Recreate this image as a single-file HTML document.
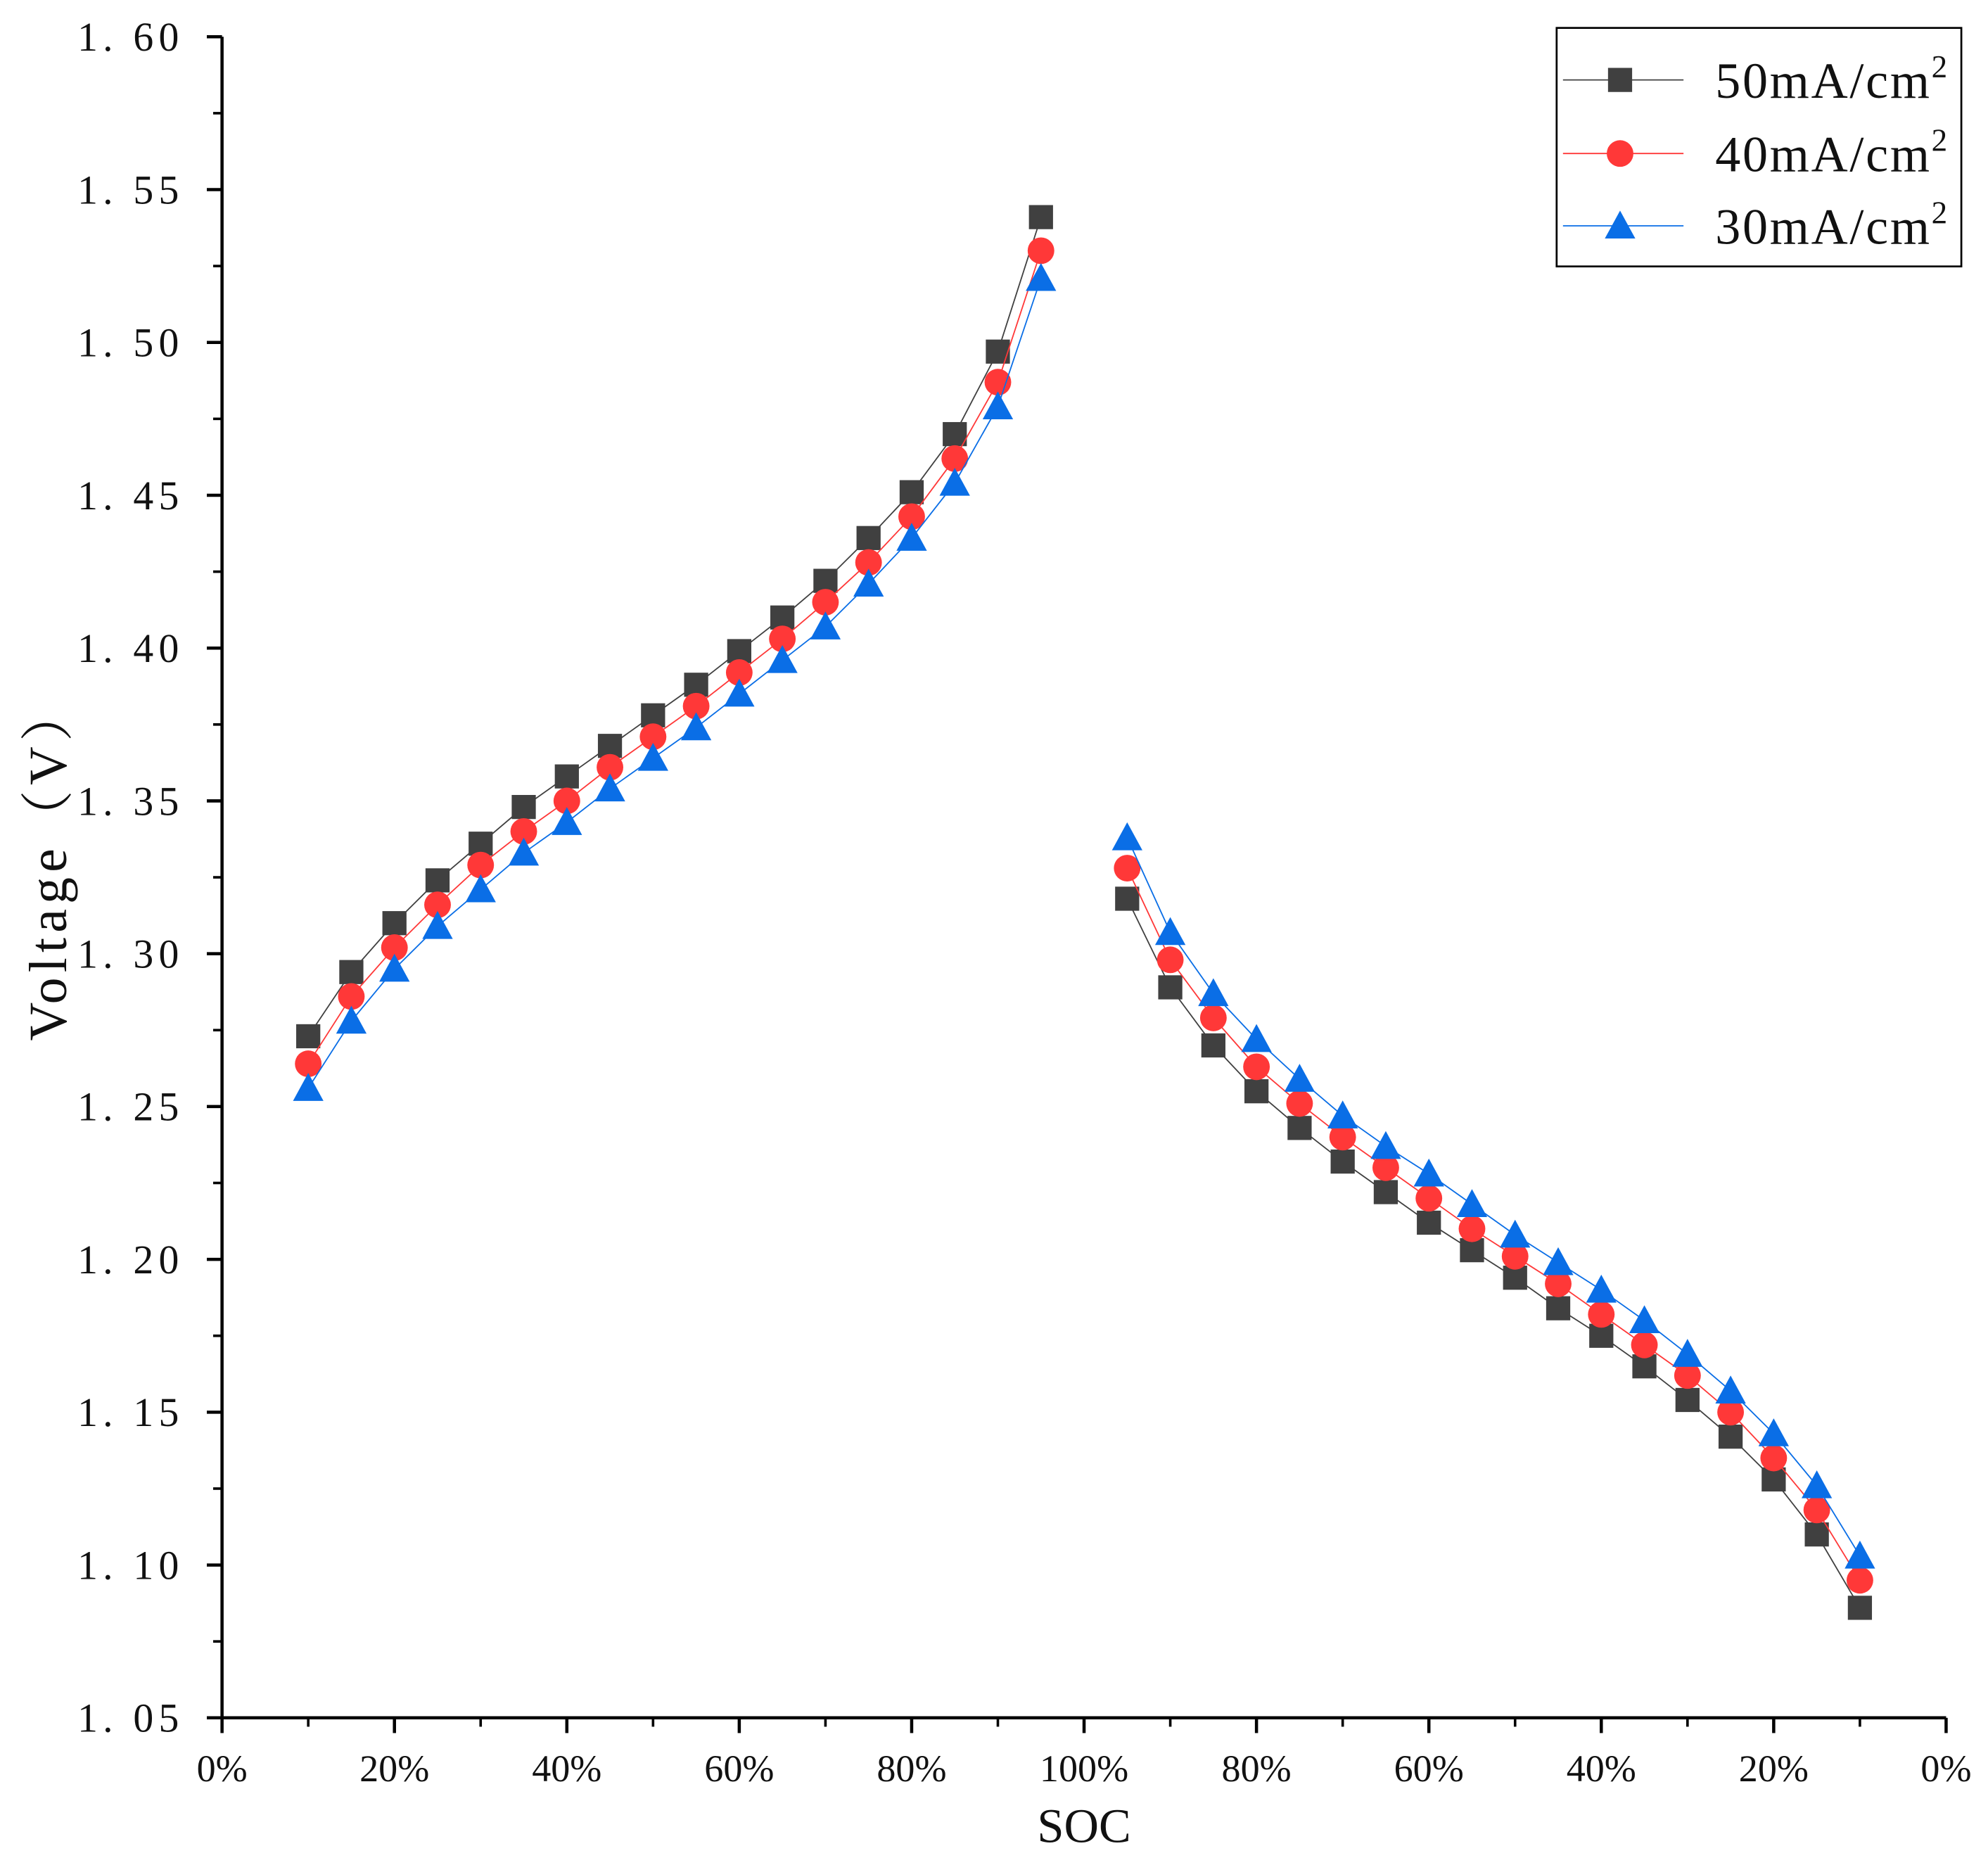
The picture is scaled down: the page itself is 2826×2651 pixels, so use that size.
<!DOCTYPE html>
<html><head><meta charset="utf-8"><style>
html,body{margin:0;padding:0;background:#fff;}
svg{display:block;}
text{font-family:"Liberation Serif","Noto Serif CJK SC",serif;fill:#111;}
</style></head><body>
<svg id="chart" width="2826" height="2651" viewBox="0 0 1567 1470" xmlns="http://www.w3.org/2000/svg">
<rect width="1567" height="1470" fill="#fff"/>
<g id="axes"></g>
<g id="series"></g>
<g id="legend"></g>
</svg>
<script>
const positions = [10,15,20,25,30,35,40,45,50,55,60,65,70,75,80,85,90,95,105,110,115,120,125,130,135,140,145,150,155,160,165,170,175,180,185,190];
const v50charge = [1.273,1.294,1.310,1.324,1.336,1.348,1.358,1.368,1.378,1.388,1.399,1.410,1.422,1.436,1.451,1.470,1.497,1.541];
const v40charge = [1.264,1.286,1.302,1.316,1.329,1.340,1.350,1.361,1.371,1.381,1.392,1.403,1.415,1.428,1.443,1.462,1.487,1.530];
const v30charge = [1.256,1.278,1.295,1.309,1.321,1.333,1.343,1.354,1.364,1.374,1.385,1.396,1.407,1.421,1.436,1.454,1.479,1.521];
const v50discharge = [1.318,1.289,1.270,1.255,1.243,1.232,1.222,1.212,1.203,1.194,1.184,1.175,1.165,1.154,1.142,1.128,1.110,1.086];
const v40discharge = [1.328,1.298,1.279,1.263,1.251,1.240,1.230,1.220,1.210,1.201,1.192,1.182,1.172,1.162,1.150,1.135,1.118,1.095];
const v30discharge = [1.338,1.307,1.287,1.272,1.259,1.247,1.237,1.228,1.218,1.208,1.199,1.190,1.180,1.169,1.157,1.143,1.126,1.103];
const yTicks = [1.05,1.10,1.15,1.20,1.25,1.30,1.35,1.40,1.45,1.50,1.55,1.60];
const yTickLabels = ["1. 05","1. 10","1. 15","1. 20","1. 25","1. 30","1. 35","1. 40","1. 45","1. 50","1. 55","1. 60"];
const xTicks = [0,20,40,60,80,100,120,140,160,180,200];
const xTickLabels = ["0%","20%","40%","60%","80%","100%","80%","60%","40%","20%","0%"];
const seriesNames = ["50mA/cm","40mA/cm","30mA/cm"];

const NS="http://www.w3.org/2000/svg";
const L=175,R=1534,T=29,B=1354;
const xs=v=>L+(v/200)*(R-L);
const ys=v=>B-(v-1.05)/0.55*(B-T);
function el(tag,attrs,parent){const e=document.createElementNS(NS,tag);for(const k in attrs)e.setAttribute(k,attrs[k]);parent.appendChild(e);return e;}
const axes=document.getElementById('axes');
const ax=el('path',{d:`M${L},${T}V${B}H${R}`,stroke:'#000','stroke-width':2.5,fill:'none'},axes);


yTicks.forEach((t,i)=>{
  const y=ys(t);
  el('line',{x1:L-12,x2:L,y1:y,y2:y,stroke:'#000','stroke-width':2.5},axes);
  const tx=el('text',{x:L-30,y:y+11,'font-size':32,'text-anchor':'end','letter-spacing':4},axes);
  tx.textContent=yTickLabels[i];
  
  
  if(i<yTicks.length-1){const ym=ys(t+0.025);el('line',{x1:L-7,x2:L,y1:ym,y2:ym,stroke:'#000','stroke-width':2},axes);}
});
xTicks.forEach((t,i)=>{
  const x=xs(t);
  el('line',{x1:x,x2:x,y1:B,y2:B+12,stroke:'#000','stroke-width':2.5},axes);
  const tx=el('text',{x:x,y:B+50,'font-size':30,'text-anchor':'middle'},axes);
  tx.textContent=xTickLabels[i];
  
  
  if(i<xTicks.length-1){const xm=xs(t+10);el('line',{x1:xm,x2:xm,y1:B,y2:B+7,stroke:'#000','stroke-width':2},axes);}
});
const xt=el('text',{x:xs(100),y:1452,'font-size':38,'text-anchor':'middle'},axes);
xt.textContent='SOC';


const yt=el('text',{x:0,y:0,'font-size':42,'text-anchor':'middle','letter-spacing':4,transform:`translate(52,${ys(1.33)}) rotate(-90)`},axes);
yt.textContent='Voltage（V）';



const colors=['#404040','#ff3838','#0a6ee6'];
const shapes=['square','circle','triangle'];
function marker(shape,x,y,c,p){
  if(shape==='square')return el('rect',{x:x-9.5,y:y-9.5,width:19,height:19,fill:c},p);
  if(shape==='circle')return el('circle',{cx:x,cy:y,r:10.5,fill:c},p);
  return el('path',{d:`M${x},${y-12}L${x+12},${y+10}L${x-12},${y+10}Z`,fill:c},p);
}
const sg=document.getElementById('series');
const data=[[v50charge,v50discharge],[v40charge,v40discharge],[v30charge,v30discharge]];
data.forEach((pair,si)=>{
  const g=el('g',{},sg);
  
  
  pair.forEach((vals,half)=>{
    const pos=positions.slice(half*18,half*18+18);
    const d=vals.map((v,i)=>(i?'L':'M')+xs(pos[i])+','+ys(v)).join('');
    el('path',{d:d,stroke:colors[si],'stroke-width':1,fill:'none'},g);
    vals.forEach((v,i)=>{
      const m=marker(shapes[si],xs(pos[i]),ys(v),colors[si],g);
      
      
    });
  });
});
const lg=document.getElementById('legend');
const box=el('rect',{x:1227,y:22,width:319,height:188,fill:'#fff',stroke:'#000','stroke-width':1.5},lg);


[63,121,178].forEach((y,i)=>{
  const g=el('g',{},lg);
  
  
  el('line',{x1:1232,x2:1327,y1:y,y2:y,stroke:colors[i],'stroke-width':1},g);
  marker(shapes[i],1277,y,colors[i],g);
  const t=el('text',{x:1352,y:y+14,'font-size':40,'letter-spacing':1.5},g);
  t.textContent=seriesNames[i];
  const s=el('tspan',{dy:-16,'font-size':25},t);
  s.textContent='2';
});
</script>
</body></html>
